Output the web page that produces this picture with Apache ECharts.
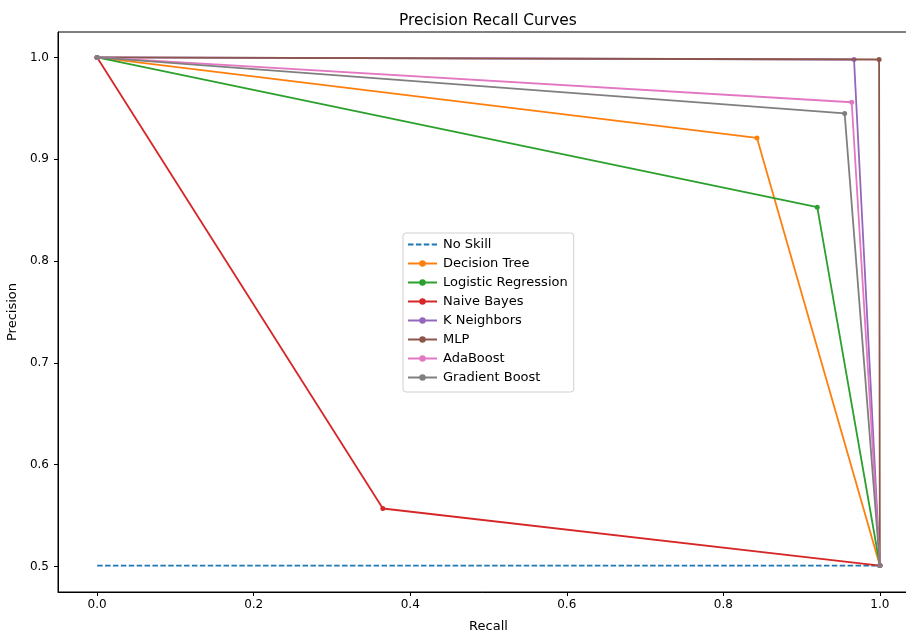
<!DOCTYPE html>
<html>
<head>
<meta charset="utf-8">
<script src="https://cdn.jsdelivr.net/npm/echarts@6/dist/echarts.min.js"></script>
<style>
html,body{margin:0;padding:0;background:#fff;}
#chart{width:906px;height:631px;}
</style>
</head>
<body>
<div id="chart"></div>
<script>
const seriesNames = ["No Skill","Decision Tree","Logistic Regression","Naive Bayes","K Neighbors","MLP","AdaBoost","Gradient Boost"];
const noSkillRecall = [0, 1];
const noSkillPrecision = [0.501, 0.501];
const dtRecall = [0, 0.843, 1];
const dtPrecision = [1, 0.921, 0.501];
const lrRecall = [0, 0.920, 1];
const lrPrecision = [1, 0.853, 0.501];
const nbRecall = [0, 0.365, 1];
const nbPrecision = [1, 0.557, 0.501];
const knRecall = [0, 0.967, 1];
const knPrecision = [1, 0.998, 0.501];
const mlpRecall = [0, 0.999, 1];
const mlpPrecision = [1, 0.998, 0.501];
const abRecall = [0, 0.964, 1];
const abPrecision = [1, 0.956, 0.501];
const gbRecall = [0, 0.955, 1];
const gbPrecision = [1, 0.945, 0.501];
const xTicks = [0, 0.2, 0.4, 0.6, 0.8, 1.0];
const yTicks = [0.5, 0.6, 0.7, 0.8, 0.9, 1.0];
const colors = ["#1f77b4","#ff7f0e","#2ca02c","#d62728","#9467bd","#8c564b","#e377c2","#7f7f7f"];

const recalls = [noSkillRecall, dtRecall, lrRecall, nbRecall, knRecall, mlpRecall, abRecall, gbRecall];
const precisions = [noSkillPrecision, dtPrecision, lrPrecision, nbPrecision, knPrecision, mlpPrecision, abPrecision, gbPrecision];

const font = "DejaVu Sans";
const series = seriesNames.map((name, i) => ({
  name: name,
  type: 'line',
  data: recalls[i].map((r, j) => [r, precisions[i][j]]),
  symbol: 'circle',
  symbolSize: i === 0 ? 0 : 5,
  showSymbol: i !== 0,
  lineStyle: { width: 1.8, color: colors[i], type: i === 0 ? [5.5, 2.4] : 'solid' },
  itemStyle: { color: colors[i] },
  emphasis: { disabled: true },
  animation: false,
  z: 2 + i
}));

const legendData = seriesNames.map((n, i) => i === 0 ? { name: n, itemStyle: { opacity: 0 } } : { name: n });

const chart = echarts.init(document.getElementById('chart'), null, { renderer: 'canvas' });
chart.setOption({
  backgroundColor: '#ffffff',
  animation: false,
  color: colors,
  title: {
    text: 'Precision Recall Curves',
    left: 394, top: 8,
    textStyle: { fontFamily: font, fontSize: 15.4, fontWeight: 'normal', color: '#000' }
  },
  grid: {
    left: 58, top: 32, right: -13, bottom: 39,
    show: true, borderColor: '#000', borderWidth: 1, backgroundColor: 'transparent',
    containLabel: false,
    outerBoundsMode: 'none'
  },
  legend: {
    orient: 'vertical',
    left: 403, top: 233,
    padding: [5, 6, 8, 4],
    itemWidth: 29, itemHeight: 8, itemGap: 6,
    backgroundColor: '#fff',
    borderColor: '#d0d0d0', borderWidth: 1, borderRadius: 3,
    textStyle: { fontFamily: font, fontSize: 13, color: '#000', padding: [0, 0, 0, 1] },
    data: legendData
  },
  xAxis: {
    type: 'value',
    min: -0.05, max: 1.05,
    name: 'Recall',
    nameLocation: 'middle', nameGap: 28,
    nameTextStyle: { fontFamily: font, fontSize: 13, color: '#000' },
    axisLine: { show: true, onZero: false, lineStyle: { color: '#000', width: 1 } },
    axisTick: { show: true, customValues: xTicks, length: 4, lineStyle: { color: '#000' } },
    axisLabel: { customValues: xTicks, margin: 7, fontFamily: font, fontSize: 12, color: '#000',
      formatter: v => v.toFixed(1) },
    splitLine: { show: false }
  },
  yAxis: {
    type: 'value',
    min: 0.475, max: 1.025,
    name: 'Precision',
    nameLocation: 'middle', nameGap: 33,
    nameTextStyle: { fontFamily: font, fontSize: 13, color: '#000' },
    axisLine: { show: true, onZero: false, lineStyle: { color: '#000', width: 1 } },
    axisTick: { show: true, customValues: yTicks, length: 4, lineStyle: { color: '#000' } },
    axisLabel: { customValues: yTicks, margin: 9, fontFamily: font, fontSize: 12, color: '#000',
      formatter: v => v.toFixed(1) },
    splitLine: { show: false }
  },
  series: series
});
</script>
</body>
</html>
